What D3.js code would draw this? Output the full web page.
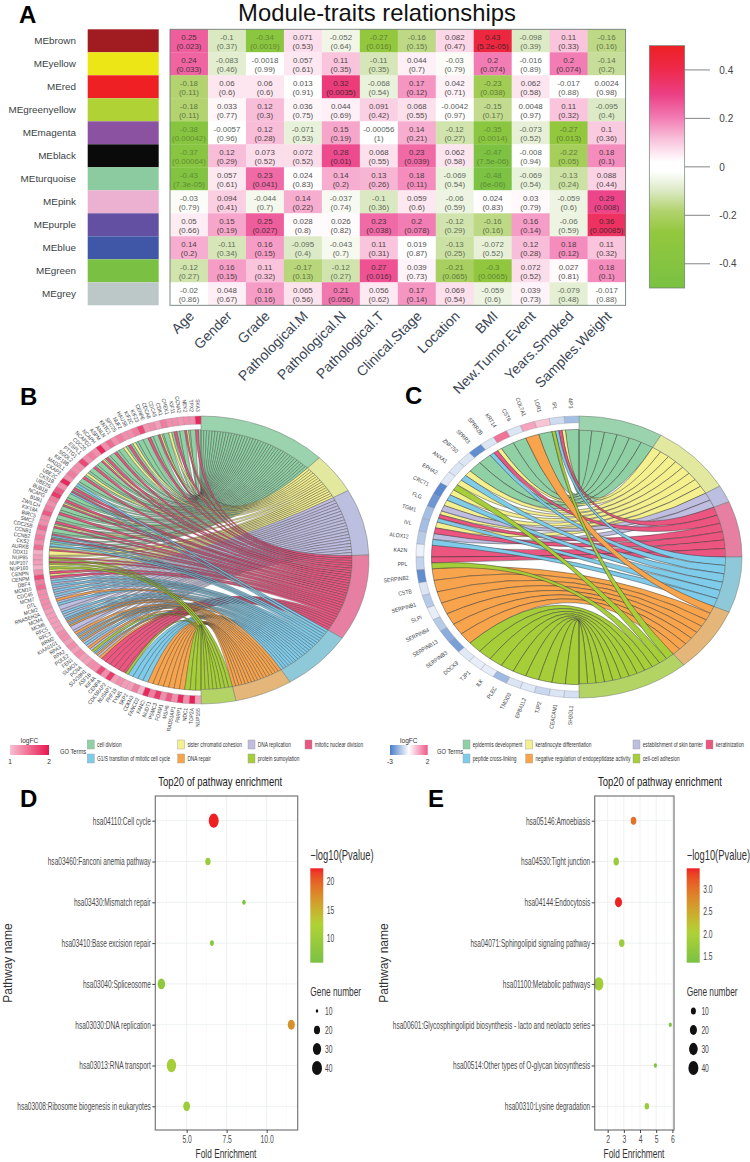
<!DOCTYPE html>
<html><head><meta charset="utf-8">
<script src="https://cdn.jsdelivr.net/npm/d3@7"></script>
<style>html,body{margin:0;padding:0;background:#fff}svg{display:block}text{font-family:"Liberation Sans",Arial,sans-serif}</style>
</head><body><svg id="c" width="750" height="1162"></svg>
<script>
// ---------- Panel A data ----------
const modules=["MEbrown","MEyellow","MEred","MEgreenyellow","MEmagenta","MEblack","MEturquoise","MEpink","MEpurple","MEblue","MEgreen","MEgrey"];
const moduleColors=["#a01c20","#ece616","#ee2024","#b0d235","#8b52a1","#0a0a0a","#8ccba0","#ecb0d0","#6450a2","#3f57a6","#7ac143","#bcc8c8"];
const traits=["Age","Gender","Grade","Pathological.M","Pathological.N","Pathological.T","Clinical.Stage","Location","BMI","New.Tumor.Event","Years.Smoked","Samples.Weight"];
const corr=[
["0.25","-0.1","-0.34","0.071","-0.052","-0.27","-0.16","0.082","0.43","-0.098","0.11","-0.16"],
["0.24","-0.083","-0.0018","0.057","0.11","-0.11","0.044","-0.03","0.2","-0.016","0.2","-0.14"],
["-0.18","0.06","0.06","0.013","0.32","-0.068","0.17","0.042","-0.23","0.062","-0.017","0.0024"],
["-0.18","0.033","0.12","0.036","0.044","0.091","0.068","-0.0042","-0.15","0.0048","0.11","-0.095"],
["-0.38","-0.0057","0.12","-0.071","0.15","-0.00056","0.14","-0.12","-0.35","-0.073","-0.27","0.1"],
["-0.37","0.12","0.073","0.072","0.28","0.068","0.23","0.062","-0.47","-0.008","-0.22","0.18"],
["-0.43","0.057","0.23","0.024","0.14","0.13","0.18","-0.069","-0.48","-0.069","-0.13","0.088"],
["-0.03","0.094","-0.044","0.14","-0.037","-0.1","0.059","-0.06","0.024","0.03","-0.059","0.29"],
["0.05","0.15","0.25","0.028","0.026","0.23","0.2","-0.12","-0.16","0.16","-0.06","0.36"],
["0.14","-0.11","0.16","-0.095","-0.043","0.11","0.019","-0.13","-0.072","0.12","0.18","0.11"],
["-0.12","0.16","0.11","-0.17","-0.12","0.27","0.039","-0.21","-0.3","0.072","0.027","0.18"],
["-0.02","0.048","0.16","0.065","0.21","0.056","0.17","0.069","-0.059","0.039","-0.079","-0.017"]];
const pvals=[
["0.023","0.37","0.0019","0.53","0.64","0.016","0.15","0.47","5.2e-05","0.39","0.33","0.16"],
["0.033","0.46","0.99","0.61","0.35","0.35","0.7","0.79","0.074","0.89","0.074","0.2"],
["0.11","0.6","0.6","0.91","0.0035","0.54","0.12","0.71","0.038","0.58","0.88","0.98"],
["0.11","0.77","0.3","0.75","0.69","0.42","0.55","0.97","0.17","0.97","0.32","0.4"],
["0.00042","0.96","0.28","0.53","0.19","1","0.21","0.27","0.0014","0.52","0.013","0.36"],
["0.00064","0.29","0.52","0.52","0.01","0.55","0.039","0.58","7.5e-06","0.94","0.05","0.1"],
["7.3e-05","0.61","0.041","0.83","0.2","0.26","0.11","0.54","6e-06","0.54","0.24","0.44"],
["0.79","0.41","0.7","0.22","0.74","0.36","0.6","0.59","0.83","0.79","0.6","0.008"],
["0.66","0.19","0.027","0.8","0.82","0.038","0.078","0.29","0.16","0.14","0.59","0.00085"],
["0.2","0.34","0.15","0.4","0.7","0.31","0.87","0.25","0.52","0.28","0.12","0.32"],
["0.27","0.15","0.32","0.13","0.27","0.016","0.73","0.065","0.0065","0.52","0.81","0.1"],
["0.86","0.67","0.16","0.56","0.056","0.62","0.14","0.54","0.6","0.73","0.48","0.88"]];
const heatStops=[-0.5,-0.27,-0.18,-0.1,-0.02,0.02,0.06,0.12,0.2,0.3,0.4,0.5];
const heatColors=["#7ac143","#93c83e","#b3d370","#dbe9c3","#ffffff","#ffffff","#fde6f0","#f8bdd8","#f27db4","#ec3f84","#ee2a4c","#ee2024"];
const heatTicks=[0.4,0.2,0,-0.2,-0.4];

// ---------- Panel B data ----------
const termNamesB=["cell division","sister chromatid cohesion","DNA replication","mitotic nuclear division","G1/S transition of mitotic cell cycle","DNA repair","protein sumoylation"];
const termShareB=[44.8,16.4,26.8,34.8,25.2,20,12];
const genesB=["SKA3","TPX2","NEK2","CCNA2","KIF11","CHEK1","CDK1","CDCA5","CDCA8","CENPE","KIF23","KIF2C","HAUS8","NUF2","SPC25","KNTC1","ANLN","ASPM","NCAPH","NCAPD2","CDC20","ESPL1","PTTG1","SGOL2","KIF18B","MAD2L1","CKAP2","UBE2C","CKS1B","UBE2S","BUB1B","NCAPG","BUB1","ZWILCH","KIF18A","BIRC5","SMC2","CDC25B","CCNB1","CCNB2","CKS2","AURKB","DDX11","NUP85","NUP107","NUP160","CENPN","CENPM","DBF4","MCM10","CDC45","MCM7","DTL","MCM2","RNASEH2A","MCM4","MCM6","RFC5","RFC3","RRM2","KIAA0101","RPA3","RPA2","POLE2","FEN1","SUMO1","PCNA","SUV39H1","ASF1B","KIF4A","CENPA","CDK5RAP2","NUSAP1","PHF19","TYMS","SKP2","CDKN3","FANCD2","FANCI","NUDT1","PSMC3","FOXM1","MSH6","RAD51AP1","PARP1","NDC1","TOP2A","NUP155"];
const linksB=["EZ","E","EKZ","E","EZ","EK","E","EKZ","E","EZ","E","E","EK","EZ","EK","E","EZ","E","EZ","EKZ","E","EZ","E","EK","EZ","E","EP","EZ","EZP","E","EZ","EKZ","E","EZ","E","EZ","EKZ","E","EZP","EZP","EP","EKZ","K","KZA","KZA","KA","KZ","KZ","BP","BP","BP","BP","BO","BP","B","BP","BP","BPO","BPO","B","BO","BPO","BPO","BP","BO","BA","BPO","BO","Z","Z","Z","Z","Z","ZA","P","P","P","P","O","O","O","O","O","O","O","A","A","A"];
const logFCB=[1.9,1.3,1.3,1.25,1.3,1.3,1.4,1.2,1.3,1.25,1.7,1.4,1.3,1.3,1.4,1.3,1.5,1.3,1.9,1.3,1.4,1.3,1.7,1.3,1.3,1.4,1.3,1.9,1.3,1.6,1.8,1.4,1.3,1.4,1.6,1.3,1.3,1.5,1.3,1.4,1.3,1.5,1.1,1.2,1.2,1.1,1.3,1.7,1.4,1.5,1.3,1.3,1.3,1.3,1.2,1.2,1.2,1.2,1.2,1.3,1.3,1.2,1.3,1.2,1.3,1.2,1.2,1.3,1.3,1.7,1.3,1.8,1.2,1.3,1.2,1.2,1.4,1.1,1.9,1.4,1.8,1.3,1.6,1.3,1.9,1.3,1.95,1.2];
const logFCRangeB=[1,2], logFCColorsB=["#f7bfd2","#e8174f"];

// ---------- Panel C data ----------
const termNamesC=["epidermis development","keratinocyte differentiation","establishment of skin barrier","keratinization","peptide cross-linking","negative regulation of endopeptidase activity","cell-cell adhesion"];
const termShareC=[30.2,29.6,7.1,23.1,23,27,40];
const genesC=["4IP3","IPL","LOR1","COL7A1","CST6","KRT14","SPRR2B","SPRR3","ZNF750","ANXA1","EPHA2","CRCT1","FLG","TGM1","IVL","ALOX12","KAZN","PPL","SERPINB2","CSTB","SERPINB1","SLPI","SERPINB4","SERPINB13","SERPINB3","DOCK9","TJP1","ILK","PLEC","TMOD3","EPB41L2","TJP2","CEACAM1","SH3GL1"];
const linksC=["E","KZPA","E","O","E","E","KZP","E","E","KP","KA","KP","KB","KZP","KZ","BP","Z","ZA","O","O","O","O","O","O","O","A","A","A","A","A","A","A","A","A"];
const logFCC=[-1.5,-0.8,0.7,1.1,-0.6,1.7,-0.6,-2.6,-0.6,-0.6,-0.5,-2.7,-2.4,-1.5,-1.5,-1.2,-0.3,-1,-2.6,-0.6,-1.2,-0.4,-1.2,-1.9,-2.2,-0.5,-0.4,-0.4,-1.6,-0.6,-0.5,-0.9,-0.6,-0.7];
const logFCRangeC=[-3,0,2], logFCColorsC=["#4a7cc8","#ffffff","#ee5a88"];
const termCodes=["E","K","B","Z","P","O","A"];
const ribbonColors=["#8fd0a4","#f4f08e","#bfbde0","#ec5580","#7fcbea","#f8a44c","#a6ce39"];
const ringColors=["#9ad3ad","#e3e89f","#bcbfe0","#e67fa2","#8fc9d9","#e4b67a","#b3d465"];

// ---------- Panels D, E data ----------
const titleDot="Top20 of pathway enrichment";
const pathwaysD=["hsa04110:Cell cycle","hsa03460:Fanconi anemia pathway","hsa03430:Mismatch repair","hsa03410:Base excision repair","hsa03040:Spliceosome","hsa03030:DNA replication","hsa03013:RNA transport","hsa03008:Ribosome biogenesis in eukaryotes"];
const foldD=[6.69,6.33,8.58,6.58,3.42,11.54,4.05,5.0];
const pvalD=[22.4,9.6,6.2,7.6,8.2,17.2,11,10];
const geneD=[40,17,12,13,26,24,36,23];
const pathwaysE=["hsa05146:Amoebiasis","hsa04530:Tight junction","hsa04144:Endocytosis","hsa04071:Sphingolipid signaling pathway","hsa01100:Metabolic pathways","hsa00601:Glycosphingolipid biosynthesis - lacto and neolacto series","hsa00514:Other types of O-glycan biosynthesis","hsa00310:Lysine degradation"];
const foldE=[3.6,2.53,2.67,2.87,1.45,5.87,4.95,4.42];
const pvalE=[3.0,1.75,3.45,1.8,1.85,1.45,1.42,1.75];
const geneE=[12.5,12,20,12,35,4,4,8];
const sizeLegend=[10,20,30,40];

const svg=d3.select("#c");
// horizontal condensing of a text about its own anchor, by a real transform
const squeeze=(sel,k)=>sel.each(function(){
 const t=d3.select(this),x=+t.attr("x")||0,y=+t.attr("y")||0,pre=t.attr("transform")||"";
 t.attr("x",null).attr("y",null).attr("transform",`${pre} translate(${x},${y}) scale(${k},1)`);
});
const letter=(t,x,y)=>svg.append("text").text(t).attr("x",x).attr("y",y).attr("font-size",24).attr("font-weight","bold").attr("fill","#000");
letter("A",19,23);letter("B",20,405);letter("C",405,404);letter("D",20,807);letter("E",428,807);
svg.append("defs");

// ---------- A ----------
(function(){
 const x=d3.scaleBand().domain(traits).range([170,625.6]);
 const y=d3.scaleBand().domain(modules).range([29.3,305.3]);
 const col=d3.scaleLinear().domain(heatStops).range(heatColors);
 svg.append("text").text("Module-traits relationships").attr("x",377).attr("y",21).attr("text-anchor","middle").attr("font-size",23.8).attr("fill","#111");
 const sw=d3.scaleBand().domain([0]).range([87.7,158.7]);
 svg.selectAll(".sw").data(modules).join("rect").attr("x",sw(0)).attr("width",sw.bandwidth()).attr("y",d=>y(d)).attr("height",y.bandwidth()).attr("fill",(d,i)=>moduleColors[i]);
 svg.selectAll(".ml").data(modules).join("text").text(d=>d).attr("x",76).attr("y",d=>y(d)+y.bandwidth()/2+3.6).attr("text-anchor","end").attr("font-size",9.9).attr("fill","#3a3f45");
 modules.forEach((m,r)=>traits.forEach((t,c)=>{
  const v=+corr[r][c],fill=col(v);
  svg.append("rect").attr("x",x(t)).attr("y",y(m)).attr("width",x.bandwidth()+.3).attr("height",y.bandwidth()+.3).attr("fill",fill);
  const tc=v<0?d3.interpolateRgb(fill,"#1f2a1f")(Math.max(.35,.75-Math.abs(v)*1.1)):d3.interpolateRgb(fill,"#222")(.78);
  const g=svg.append("g").attr("fill",tc).attr("font-size",7.9).attr("text-anchor","middle");
  g.append("text").text(corr[r][c]).attr("x",x(t)+x.bandwidth()/2).attr("y",y(m)+10.3);
  g.append("text").text("("+pvals[r][c]+")").attr("x",x(t)+x.bandwidth()/2).attr("y",y(m)+20);
 }));
 svg.append("rect").attr("x",170).attr("y",29.3).attr("width",455.6).attr("height",276).attr("fill","none").attr("stroke","#6f7f74").attr("stroke-width",.9);
 traits.forEach(t=>{
  const px=x(t)+x.bandwidth()/2-1,py=310;
  svg.append("text").text(t).attr("transform",`translate(${px},${py}) rotate(-45)`).attr("text-anchor","end").attr("font-size",14).attr("fill","#3b4654").attr("dy",".7em");
 });
 const cy=d3.scaleLinear().domain([-0.5,0.5]).range([288,45.7]);
 const gr=svg.select("defs").append("linearGradient").attr("id","heatg").attr("x1",0).attr("x2",0).attr("y1",1).attr("y2",0);
 heatStops.forEach((s,i)=>gr.append("stop").attr("offset",(s+.5)).attr("stop-color",heatColors[i]));
 svg.append("rect").attr("x",649.3).attr("y",cy(.5)).attr("width",35.4).attr("height",cy(-.5)-cy(.5)).attr("fill","url(#heatg)").attr("stroke","#6f7f74").attr("stroke-width",.7);
 heatTicks.forEach(t=>{
  svg.append("line").attr("x1",684.7).attr("x2",710).attr("y1",cy(t)).attr("y2",cy(t)).attr("stroke","#777").attr("stroke-width",.9);
  svg.append("text").text(t).attr("x",719.3).attr("y",cy(t)+3.7).attr("font-size",10).attr("fill","#444");
 });
})();

// ---------- chord ----------
function chord(o){
 const g=svg.append("g").attr("transform",`translate(${o.cx},${o.cy}) scale(${o.rx},${o.ry})`);
 const gangle=d3.scaleLinear().domain([0,o.genes.length]).range([0,Math.PI]);
 const total=d3.sum(o.share);
 const tangle=d3.scaleLinear().domain([0,total]).range([0,Math.PI]);
 const cum=d3.cumsum(o.share);
 const fc=d3.scaleLinear().domain(o.fcRange).range(o.fcColors);
 const ribbon=d3.ribbon();
 const arc=d3.arc();
 const rInner=.905;
 const byTerm=termCodes.map(()=>[]);
 o.links.forEach((s,i)=>[...s].forEach((c,j)=>byTerm[termCodes.indexOf(c)].push({gene:i,j,n:s.length})));
 byTerm.forEach((list,t)=>{
  const a0=tangle(t?cum[t-1]:0),a1=tangle(cum[t]);
  const step=(a1-a0)/list.length;
  list.forEach((l,k)=>{
   const g0=gangle(l.gene),g1=gangle(l.gene+1),gs=(g1-g0)/l.n;
   const d=ribbon({source:{startAngle:-(g0+gs*(l.j+1)),endAngle:-(g0+gs*l.j),radius:rInner},target:{startAngle:a0+step*k,endAngle:a0+step*(k+1),radius:.9}});
   g.append("path").attr("d",d).attr("fill",ribbonColors[t]).attr("stroke","#2e2e2e").attr("stroke-width",o.sw).attr("vector-effect","non-scaling-stroke");
  });
  g.append("path").attr("d",arc({innerRadius:.9,outerRadius:1,startAngle:a0,endAngle:a1})).attr("fill",ringColors[t]).attr("stroke","#6f7a6f").attr("stroke-width",.5).attr("vector-effect","non-scaling-stroke");
 });
 o.genes.forEach((name,i)=>{
  const a=gangle(i),b=gangle(i+1);
  g.append("path").attr("d",arc({innerRadius:o.ringIn,outerRadius:1,startAngle:-b,endAngle:-a})).attr("fill",fc(o.fc[i])).attr("stroke","#8a8f9a").attr("stroke-width",.35).attr("vector-effect","non-scaling-stroke");
  const m=(a+b)/2,sx=Math.sin(m),cs=Math.cos(m),R=o.labelR;
  const px=o.cx-o.rx*R*sx,py=o.cy-o.ry*R*cs;
  const ang=Math.atan2(o.ry*cs,o.rx*sx)*180/Math.PI;
  svg.append("text").text(name).attr("transform",`translate(${px},${py}) rotate(${ang})`).attr("text-anchor","end").attr("dy",".35em").attr("font-size",o.labelSize).attr("fill","#404448").call(squeeze,.88);
 });
 const L=o.legend;
 const gid=o.id+"g";
 const lg=svg.select("defs").append("linearGradient").attr("id",gid);
 o.fcColors.forEach((c,i)=>lg.append("stop").attr("offset",i/(o.fcColors.length-1)).attr("stop-color",c));
 svg.append("rect").attr("x",L.x0).attr("y",745).attr("width",L.x1-L.x0).attr("height",10).attr("fill",`url(#${gid})`);
 svg.append("text").text("logFC").attr("x",(L.x0+L.x1)/2).attr("y",743).attr("text-anchor","middle").attr("font-size",6.6).attr("fill","#333");
 [o.fcRange[0],o.fcRange[o.fcRange.length-1]].forEach((v,i)=>svg.append("text").text(v).attr("x",i?L.x1:L.x0).attr("y",764).attr("text-anchor","middle").attr("font-size",6.6).attr("fill","#333"));
 svg.append("text").text("GO Terms").attr("x",L.go).attr("y",754).attr("font-size",6.8).attr("fill","#333").call(squeeze,.85);
 termCodes.forEach((c,t)=>{
  const col=t<4?t:t-4, row=t<4?0:1;
  const sx=L.sw[col], yy=740+row*14;
  svg.append("rect").attr("x",sx).attr("y",yy).attr("width",7).attr("height",9).attr("fill",ribbonColors[t]).attr("stroke","#999").attr("stroke-width",.4);
  svg.append("text").text(o.terms[t]).attr("x",sx+9.7).attr("y",yy+7).attr("font-size",6.6).attr("fill","#333").call(squeeze,.73);
 });
}
chord({id:"b",cx:201,cy:560,rx:168,ry:144,genes:genesB,links:linksB,share:termShareB,fc:logFCB,fcRange:logFCRangeB,fcColors:logFCColorsB,terms:termNamesB,sw:.35,ringIn:.943,labelR:1.03,labelSize:5.6,
 legend:{x0:10,x1:49,go:60,sw:[87.3,177.7,248,305]}});
chord({id:"c",cx:579,cy:557,rx:163,ry:141,genes:genesC,links:linksC,share:termShareC,fc:logFCC,fcRange:logFCRangeC,fcColors:logFCColorsC,terms:termNamesC,sw:.45,ringIn:.952,labelR:1.055,labelSize:5.8,
 legend:{x0:390,x1:427.7,go:437,sw:[463,525.7,633,706]}});

// ---------- dot plots ----------
function dots(o){
 const x=d3.scaleLinear().domain(o.xDomain).range([o.left,o.right]);
 const y=d3.scalePoint().domain(o.paths).range([820.7,1106.3]);
 const c=d3.scaleLinear().domain(o.cDomain).range(["#7ac143","#b0d235","#ee2024"]).interpolate(d3.interpolateLab);
 const top=796,bot=1130;
 const gridG=svg.append("g");
 o.minor.forEach(v=>gridG.append("line").attr("x1",x(v)).attr("x2",x(v)).attr("y1",top).attr("y2",bot).attr("stroke","#f2f3f3").attr("stroke-width",.5));
 o.xTicks.forEach(v=>gridG.append("line").attr("x1",x(v)).attr("x2",x(v)).attr("y1",top).attr("y2",bot).attr("stroke","#ebedee").attr("stroke-width",.8));
 o.paths.forEach(v=>gridG.append("line").attr("x1",o.left).attr("x2",o.right).attr("y1",y(v)).attr("y2",y(v)).attr("stroke","#ebedee").attr("stroke-width",.8));
 const r0=d3.scaleSqrt().domain([0,40-o.sizeOffset]).range([0,5]);
 const r=g=>r0(Math.max(g-o.sizeOffset,0));
 o.paths.forEach((p,i)=>svg.append("ellipse").attr("cx",x(o.fold[i])).attr("cy",y(p)).attr("rx",r(o.gene[i])).attr("ry",r(o.gene[i])*1.42).attr("fill",c(o.pval[i])));
 svg.append("rect").attr("x",o.left).attr("y",top).attr("width",o.right-o.left).attr("height",bot-top).attr("fill","none").attr("stroke","#777").attr("stroke-width",1.2);
 const ay=svg.append("g").attr("transform",`translate(${o.left},0)`).call(d3.axisLeft(y).tickSize(3).tickPadding(1.5));
 ay.select(".domain").remove();
 ay.selectAll("text").attr("font-size",10.8).attr("fill","#4a4a4a").call(squeeze,.606);
 ay.selectAll("line").attr("stroke","#444");
 const ax=svg.append("g").attr("transform",`translate(0,${bot})`).call(d3.axisBottom(x).tickValues(o.xTicks).tickFormat(o.fmt).tickSize(3).tickPadding(2));
 ax.select(".domain").remove();
 ax.selectAll("text").attr("font-size",10.8).attr("fill","#4a4a4a").call(squeeze,.63);
 ax.selectAll("line").attr("stroke","#444");
 svg.append("text").text(titleDot).attr("x",(o.left+o.titleEnd)/2).attr("y",786).attr("text-anchor","middle").attr("font-size",13).attr("fill","#222").call(squeeze,.73);
 svg.append("text").text("Fold Enrichment").attr("x",o.xTitle).attr("y",1158).attr("text-anchor","middle").attr("font-size",13.5).attr("fill","#333").call(squeeze,.62);
 svg.append("text").text("Pathway name").attr("transform",`translate(${o.yTitleX},963) rotate(-90)`).attr("text-anchor","middle").attr("font-size",12).attr("fill","#333");
 const ly=d3.scaleLinear().domain(o.cRange).range([962.7,868.3]);
 const lg=svg.select("defs").append("linearGradient").attr("id","grad"+o.id).attr("x1",0).attr("x2",0).attr("y1",1).attr("y2",0);
 d3.range(0,1.001,.05).forEach(t=>lg.append("stop").attr("offset",t).attr("stop-color",c(o.cRange[0]+t*(o.cRange[1]-o.cRange[0]))));
 svg.append("rect").attr("x",o.leg).attr("y",868.3).attr("width",13).attr("height",94.4).attr("fill",`url(#grad${o.id})`);
 svg.append("text").text("\u2212log10(Pvalue)").attr("x",o.leg).attr("y",860).attr("font-size",14).attr("fill","#333").call(squeeze,.67);
 o.cTicks.forEach(t=>svg.append("text").text(o.cFmt(t)).attr("x",o.leg+16.5).attr("y",ly(t)+3.6).attr("font-size",10.8).attr("fill","#444").call(squeeze,.62));
 svg.append("text").text("Gene number").attr("x",o.leg).attr("y",996).attr("font-size",13).attr("fill","#333").call(squeeze,.64);
 const sy=d3.scalePoint().domain(sizeLegend).range([1011,1068]);
 sizeLegend.forEach(s=>{
  svg.append("ellipse").attr("cx",o.leg+6.7).attr("cy",sy(s)).attr("rx",r(s)).attr("ry",r(s)*1.42).attr("fill","#111");
  svg.append("text").text(s).attr("x",o.leg+14.7).attr("y",sy(s)+3.6).attr("font-size",10.8).attr("fill","#444").call(squeeze,.62);
 });
}
dots({id:"d",paths:pathwaysD,fold:foldD,pval:pvalD,gene:geneD,xDomain:[3.04,11.94],left:155.3,right:297.7,xTicks:[5,7.5,10],minor:[3.75,6.25,8.75,11.25],fmt:d3.format(".1f"),
 cDomain:[5.67,12.5,22.4],cRange:[5.67,22.4],cTicks:[10,15,20],cFmt:d=>d,sizeOffset:8,leg:310.3,titleEnd:285,xTitle:226,yTitleX:12});
dots({id:"e",paths:pathwaysE,fold:foldE,pval:pvalE,gene:geneE,xDomain:[1.2,6.1],left:594.7,right:674,xTicks:[2,3,4,5,6],minor:[1.5,2.5,3.5,4.5,5.5],fmt:d3.format("d"),
 cDomain:[1.37,2.05,3.46],cRange:[1.37,3.46],cTicks:[1.5,2,2.5,3],cFmt:d3.format(".1f"),sizeOffset:0,leg:686.7,titleEnd:725,xTitle:634,yTitleX:388});
</script></body></html>
